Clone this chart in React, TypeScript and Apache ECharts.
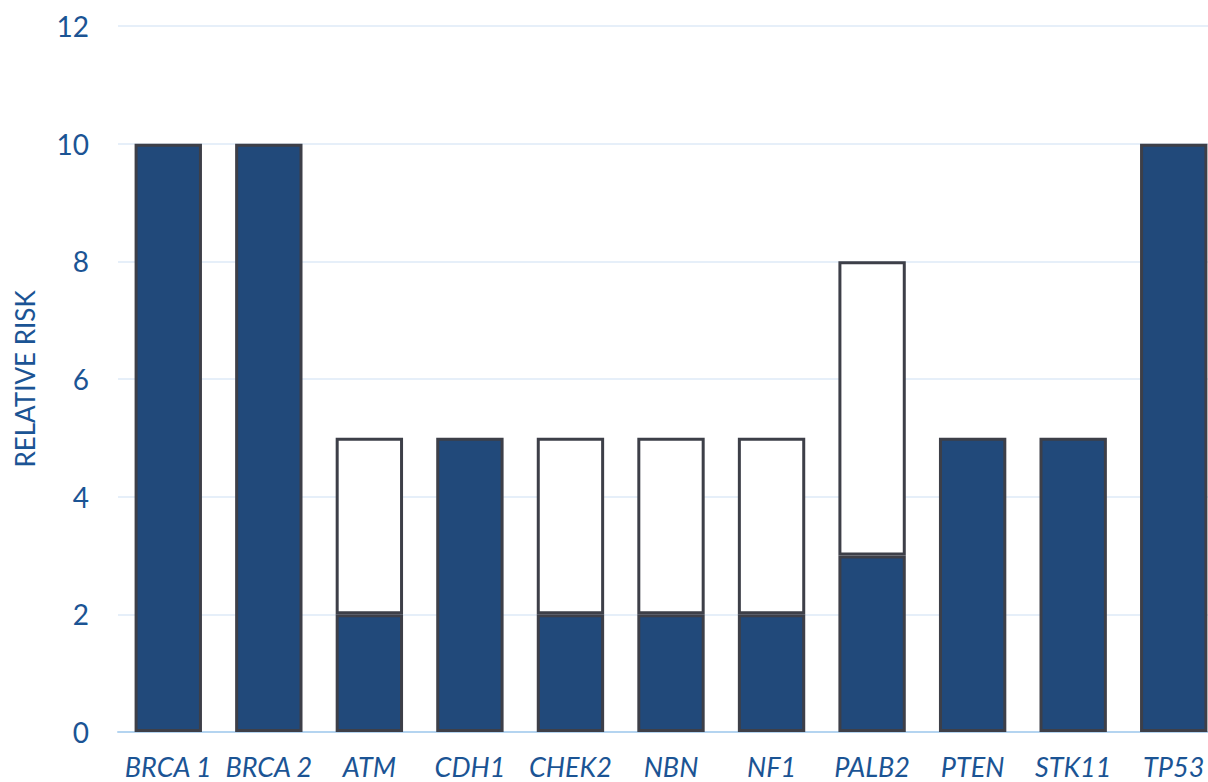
import React, { useEffect, useRef } from "react";
import * as echarts from "echarts";

// Relative risk per gene: solid lower bound plus open range above it
const genes = ["BRCA 1", "BRCA 2", "ATM", "CDH1", "CHEK2", "NBN", "NF1", "PALB2", "PTEN", "STK11", "TP53"];
const baseRisk = [10, 10, 2, 5, 2, 2, 2, 3, 5, 5, 10];
const rangeRisk: (number | string)[] = ["-", "-", 3, "-", 3, 3, 3, 5, "-", "-", "-"];
const yTicks = { min: 0, max: 12, interval: 2 };

const TEXT = "#1B5494";
const FILL = "#21497A";
const EDGE = "#3D3F48";
const FONT = "Lato";

export default function App() {
  const ref = useRef<HTMLDivElement>(null);

  useEffect(() => {
    document.body.style.margin = "0";
    document.body.style.overflow = "hidden";
    const chart = echarts.init(ref.current!, null, { renderer: "svg" });
    chart.setOption({
      animation: false,
      grid: { left: 118, right: 16, top: 26, bottom: 50, containLabel: false },
      xAxis: {
        type: "category",
        data: genes,
        axisLine: { lineStyle: { color: "#B4D4F0", width: 2 } },
        axisTick: { show: false },
        axisLabel: {
          color: TEXT,
          fontFamily: FONT,
          fontStyle: "italic",
          fontSize: 27,
          lineHeight: 27,
          margin: 21,
          interval: 0,
        },
      },
      yAxis: {
        type: "value",
        min: yTicks.min,
        max: yTicks.max,
        interval: yTicks.interval,
        name: "RELATIVE RISK",
        nameLocation: "middle",
        nameGap: 80,
        nameTextStyle: { color: TEXT, fontFamily: FONT, fontSize: 26 },
        axisLine: { show: false },
        axisTick: { show: false },
        axisLabel: { color: TEXT, fontFamily: FONT, fontSize: 28, margin: 29 },
        splitLine: { lineStyle: { color: "#E6EFF9", width: 2 } },
      },
      series: [
        {
          type: "bar",
          stack: "risk",
          data: baseRisk,
          barWidth: "67%",
          itemStyle: { color: FILL, borderColor: EDGE, borderWidth: 3 },
        },
        {
          type: "bar",
          stack: "risk",
          data: rangeRisk,
          barWidth: "67%",
          itemStyle: { color: "#FFFFFF", borderColor: EDGE, borderWidth: 3 },
        },
      ],
    });
    return () => chart.dispose();
  }, []);

  return (
    <div style={{ position: "fixed", left: 0, top: 0, width: 1208, height: 782, overflow: "hidden", background: "#fff" }}>
      <div ref={ref} style={{ width: 1240, height: 782 }} />
    </div>
  );
}
